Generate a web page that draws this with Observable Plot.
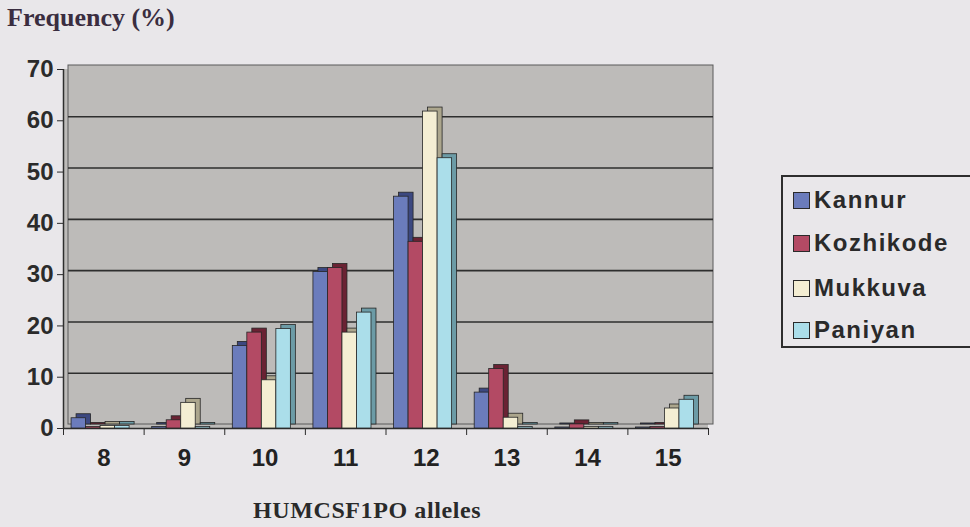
<!DOCTYPE html>
<html>
<head>
<meta charset="utf-8">
<script src="https://cdn.jsdelivr.net/npm/d3@7"></script>
<script src="https://cdn.jsdelivr.net/npm/@observablehq/plot@0.6"></script>
<style>
  html, body { margin: 0; padding: 0; }
  body { width: 970px; height: 527px; background: #e9e7ea; position: relative; overflow: hidden; }
  #chart { position: absolute; left: 0; top: 0; }
  .ytitle { position: absolute; left: 7px; top: 5px; font: bold 26px "Liberation Serif", serif; color: #3a2d40; line-height: 1; white-space: nowrap; }
  .xtitle { position: absolute; left: 253px; top: 498px; font: bold 24px "Liberation Serif", serif; letter-spacing: 0.6px; color: #2a2a2a; line-height: 1; white-space: nowrap; }
  .legend { position: absolute; left: 781px; top: 175px; width: 220px; height: 173px; border: 2px solid #2e2e2e; box-sizing: border-box; }
  .item { position: absolute; left: 10px; height: 24px; display: flex; align-items: center; font: bold 24px "Liberation Sans", Arial, sans-serif; letter-spacing: 1.5px; color: #2a2a2a; white-space: nowrap; }
  .sw { width: 15px; height: 15px; border: 1.5px solid #2a2a2a; margin-right: 4px; }
</style>
</head>
<body>
<div class="ytitle">Frequency (%)</div>
<div id="chart"></div>
<div class="xtitle">HUMCSF1PO alleles</div>
<div class="legend" id="legend"></div>
<script>
// HUMCSF1PO allele frequencies (%) in four populations
const alleles = [8, 9, 10, 11, 12, 13, 14, 15];
const populations = ["Kannur", "Kozhikode", "Mukkuva", "Paniyan"];
const kannur    = [2.0, 0.3, 16.1, 30.5, 45.2,  7.0, 0.2, 0.2];
const kozhikode = [0.3, 1.6, 18.7, 31.3, 36.4, 11.6, 0.8, 0.3];
const mukkuva   = [0.5, 5.0,  9.4, 18.7, 61.8,  2.1, 0.3, 3.9];
const paniyan   = [0.5, 0.3, 19.4, 22.6, 52.7,  0.3, 0.3, 5.6];
const yTicks = [0, 10, 20, 30, 40, 50, 60, 70];

const frontColors = ["#6b7cbc", "#b34a64", "#f4eed3", "#abdeea"];
const sideColors  = ["#3c4880", "#6a2233", "#aca68d", "#6c9ba6"];

const series = [kannur, kozhikode, mukkuva, paniyan];
const rows = [];
series.forEach((vals, i) => {
  vals.forEach((v, j) => rows.push({allele: alleles[j], pop: populations[i], idx: i, value: v}));
});

// bar position inside each allele's slot (in allele units)
const groupInset = 0.1, barWidth = 0.18;
const x1 = d => d.allele - 0.5 + groupInset + d.idx * barWidth;
const x2 = d => d.allele - 0.5 + groupInset + (d.idx + 1) * barWidth;

const boundaries = alleles.map(a => a - 0.5).concat([alleles[alleles.length - 1] + 0.5]);
const xMin = boundaries[0], xMax = boundaries[boundaries.length - 1];
const depthX = 5, depthY = -4;

const plot = Plot.plot({
  width: 730,
  height: 527,
  marginLeft: 63,
  marginRight: 22,
  marginTop: 69,
  marginBottom: 99,
  style: {background: "transparent", color: "#2b2b2b", fontFamily: "'Liberation Sans', Arial, sans-serif", fontSize: "24px", fontWeight: "bold"},
  x: {domain: [xMin, xMax], ticks: boundaries, tickFormat: () => "", tickSize: 7, label: null},
  y: {domain: [0, 70], ticks: yTicks, tickSize: 6, tickPadding: 4, label: null},
  marks: [
    // floor and back wall
    Plot.rect([0], {x1: xMin, x2: xMax, y1: 0, y2: 70, fill: "#bdbbb9"}),
    Plot.rect([0], {x1: xMin, x2: xMax, y1: 0, y2: 70, dx: depthX, dy: depthY, fill: "#bdbbb9", stroke: "#5a5a5a", strokeWidth: 1}),
    // gridlines on the back wall
    Plot.ruleY(yTicks.filter(t => t > 0 && t < 70), {x1: xMin, x2: xMax, dx: depthX, dy: depthY, stroke: "#2e2e2e", strokeWidth: 1.6}),
    // axis lines
    Plot.ruleX([xMin], {y1: 0, y2: 70, stroke: "#2e2e2e", strokeWidth: 1.5}),
    Plot.ruleY([0], {x1: xMin, x2: xMax, stroke: "#2e2e2e", strokeWidth: 1.5}),
    // bar depth (side and top faces)
    Plot.rect(rows, {x1, x2, y1: 0, y2: "value", dx: depthX, dy: depthY, fill: d => sideColors[d.idx], stroke: "#262626", strokeWidth: 0.8}),
    // bar fronts
    Plot.rect(rows, {x1, x2, y1: 0, y2: "value", fill: d => frontColors[d.idx], stroke: "#262626", strokeWidth: 0.8}),
    // allele labels
    Plot.text(alleles, {x: d => d, y: 0, text: d => String(d), dy: 30, fontSize: 24, fontWeight: "bold", fill: "#222"})
  ]
});
document.getElementById("chart").appendChild(plot);

// legend
const legend = document.getElementById("legend");
const centers = [25, 68, 113, 155];
populations.forEach((p, i) => {
  const item = document.createElement("div");
  item.className = "item";
  item.style.top = (centers[i] - 12 - 2) + "px";
  const sw = document.createElement("div");
  sw.className = "sw";
  sw.style.background = frontColors[i];
  item.appendChild(sw);
  item.appendChild(document.createTextNode(p));
  legend.appendChild(item);
});
</script>
</body>
</html>
